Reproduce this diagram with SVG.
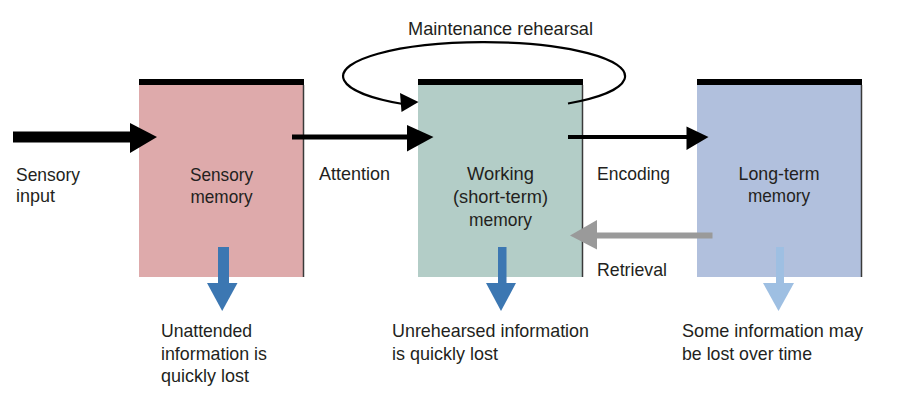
<svg xmlns="http://www.w3.org/2000/svg" width="900" height="406" viewBox="0 0 900 406">
<style>
text{font-family:"Liberation Sans",Arial,sans-serif;font-size:19px;fill:#231f20}
.c{text-anchor:middle}
.bar{fill:#000}
.edge{stroke:#3a3a3a;stroke-width:1.5}
.blk{fill:#000}
.dk{fill:#3c77b2}
.lt{fill:#9ebfe2}
</style>
<rect width="900" height="406" fill="#fff"/>
<g id="sensory-memory">
<rect x="139" y="82" width="165" height="195" fill="#deaaab"/>
<rect class="bar" x="139" y="79" width="165" height="6"/>
<line class="edge" x1="303.5" y1="85" x2="303.5" y2="277"/>
<text class="c" x="221.5" y="181" textLength="63" lengthAdjust="spacingAndGlyphs">Sensory</text>
<text class="c" x="221.5" y="203" textLength="62" lengthAdjust="spacingAndGlyphs">memory</text>
</g>
<g id="working-memory">
<rect x="418" y="82" width="165" height="195" fill="#b3cdc7"/>
<rect class="bar" x="418" y="79" width="165" height="6"/>
<line class="edge" x1="582.5" y1="85" x2="582.5" y2="277"/>
<text class="c" x="500.5" y="180" textLength="67" lengthAdjust="spacingAndGlyphs">Working</text>
<text class="c" x="500.5" y="203" textLength="95" lengthAdjust="spacingAndGlyphs">(short-term)</text>
<text class="c" x="500.5" y="226" textLength="63" lengthAdjust="spacingAndGlyphs">memory</text>
</g>
<g id="long-term-memory">
<rect x="697" y="82" width="165" height="195" fill="#b1c0dd"/>
<rect class="bar" x="697" y="79" width="165" height="6"/>
<line class="edge" x1="861.5" y1="85" x2="861.5" y2="277"/>
<text class="c" x="779" y="180" textLength="81" lengthAdjust="spacingAndGlyphs">Long-term</text>
<text class="c" x="779" y="202" textLength="62" lengthAdjust="spacingAndGlyphs">memory</text>
</g>
<g id="connectors">
<g id="sensory-input">
<rect class="blk" x="13" y="131.5" width="118" height="11"/>
<polygon class="blk" points="130,123 157,137 130,153"/>
</g>
<g id="attention">
<rect class="blk" x="292" y="134.5" width="117" height="5"/>
<polygon class="blk" points="407,125 433.5,137 407,151.5"/>
</g>
<g id="encoding">
<rect class="blk" x="568" y="135" width="120" height="4"/>
<polygon class="blk" points="686.5,126.5 708.5,137 686.5,150"/>
</g>
<g id="retrieval">
<rect x="596" y="232.5" width="116.5" height="6" fill="#9a9a9a"/>
<polygon points="597,220 570,235.5 597,249.5" fill="#9a9a9a"/>
</g>
<g id="maintenance-rehearsal">
<path d="M568,103.5 A141,34 0 1 0 403,104" fill="none" stroke="#000" stroke-width="2.2"/>
<polygon class="blk" points="400,93 418.5,102 401.5,112"/>
</g>
<g id="loss-sensory">
<rect class="dk" x="218" y="247" width="11" height="37"/>
<polygon class="dk" points="207,283 237.5,283 222.2,311"/>
</g>
<g id="loss-working">
<rect class="dk" x="498" y="247" width="8.5" height="37"/>
<polygon class="dk" points="486,283 516,283 501,311"/>
</g>
<g id="loss-longterm">
<rect class="lt" x="776" y="247" width="8" height="37"/>
<polygon class="lt" points="763,283 794,283 778.5,311"/>
</g>
</g>
<g id="labels">
<text x="408" y="35" textLength="185" lengthAdjust="spacingAndGlyphs">Maintenance rehearsal</text>
<text x="16" y="181" textLength="64" lengthAdjust="spacingAndGlyphs">Sensory</text>
<text x="16" y="202" textLength="39" lengthAdjust="spacingAndGlyphs">input</text>
<text x="319" y="179.5" textLength="71" lengthAdjust="spacingAndGlyphs">Attention</text>
<text x="597" y="180" textLength="73" lengthAdjust="spacingAndGlyphs">Encoding</text>
<text x="597" y="276" textLength="70" lengthAdjust="spacingAndGlyphs">Retrieval</text>
<text x="161" y="337" textLength="91" lengthAdjust="spacingAndGlyphs">Unattended</text>
<text x="161" y="359.5" textLength="106" lengthAdjust="spacingAndGlyphs">information is</text>
<text x="161" y="382" textLength="88" lengthAdjust="spacingAndGlyphs">quickly lost</text>
<text x="392" y="337" textLength="197" lengthAdjust="spacingAndGlyphs">Unrehearsed information</text>
<text x="392" y="359.5" textLength="106" lengthAdjust="spacingAndGlyphs">is quickly lost</text>
<text x="682" y="337" textLength="181" lengthAdjust="spacingAndGlyphs">Some information may</text>
<text x="682" y="360" textLength="130" lengthAdjust="spacingAndGlyphs">be lost over time</text>
</g>
</svg>
